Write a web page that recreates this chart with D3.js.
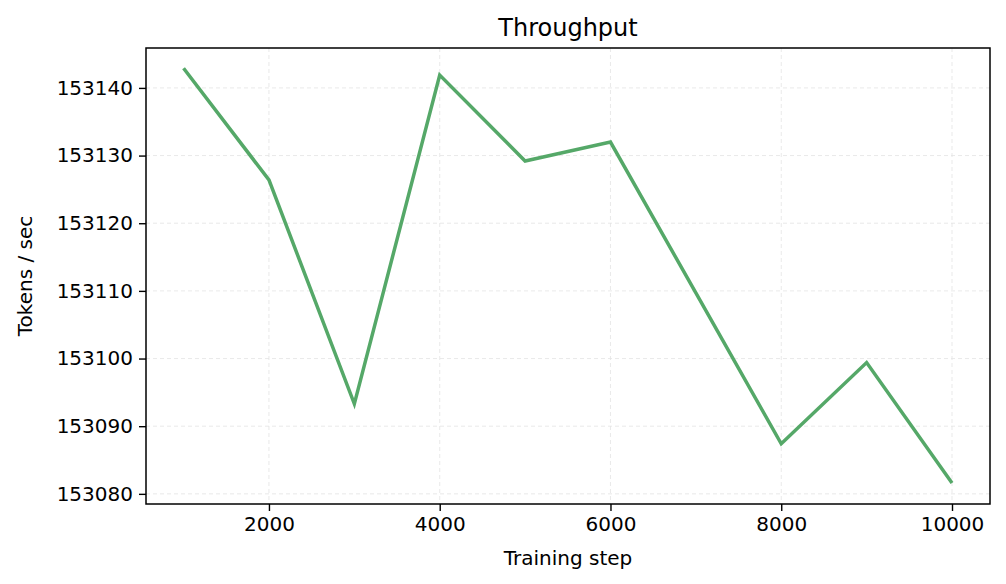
<!DOCTYPE html>
<html>
<head>
<meta charset="utf-8">
<script src="https://cdn.jsdelivr.net/npm/d3@7"></script>
<style>
  body { margin: 0; background: #fff; }
  text { font-family: "DejaVu Sans", sans-serif; fill: #000; }
</style>
</head>
<body>
<div id="chart"></div>
<script>
const steps = [1000, 2000, 3000, 4000, 5000, 6000, 7000, 8000, 9000, 10000];
const tokensPerSec = [153142.9, 153126.4, 153093.3, 153141.9, 153129.2, 153132.0, 153109.7, 153087.4, 153099.4, 153081.6];
const xTicks = [2000, 4000, 6000, 8000, 10000];
const yTicks = [153080, 153090, 153100, 153110, 153120, 153130, 153140];

const width = 1006, height = 584;
const margin = { top: 48, right: 16, bottom: 80, left: 146 };
const w = width - margin.left - margin.right, h = height - margin.top - margin.bottom;

const svg = d3.select("#chart").append("svg")
    .attr("width", width).attr("height", height);
const g = svg.append("g").attr("transform", `translate(${margin.left},${margin.top})`);

const x = d3.scaleLinear().domain([560, 10445]).range([0, w]);
const y = d3.scaleLinear().domain([153078.5, 153145.9]).range([h, 0]);

// grid
g.selectAll(".gx").data(xTicks).enter().append("line")
    .attr("x1", d => x(d)).attr("x2", d => x(d)).attr("y1", 0).attr("y2", h)
    .attr("stroke", "#e3e3e3").attr("stroke-dasharray", "4,3").attr("stroke-width", 0.8);
g.selectAll(".gy").data(yTicks).enter().append("line")
    .attr("y1", d => y(d)).attr("y2", d => y(d)).attr("x1", 0).attr("x2", w)
    .attr("stroke", "#e3e3e3").attr("stroke-dasharray", "4,3").attr("stroke-width", 0.8);

const xAxis = g.append("g").attr("transform", `translate(0,${h})`)
    .call(d3.axisBottom(x).tickValues(xTicks).tickFormat(d3.format("d")).tickSize(7).tickPadding(6));
const yAxis = g.append("g")
    .call(d3.axisLeft(y).tickValues(yTicks).tickFormat(d3.format("d")).tickSize(7).tickPadding(6));
[xAxis, yAxis].forEach(a => {
    a.select(".domain").remove();
    a.selectAll("text").style("font-size", "20px");
    a.selectAll("line").attr("stroke", "#000").attr("stroke-width", 1.4);
});

g.append("rect").attr("width", w).attr("height", h)
    .attr("fill", "none").attr("stroke", "#000").attr("stroke-width", 1.5);

const line = d3.line().x((d, i) => x(steps[i])).y(d => y(d));
g.append("path").datum(tokensPerSec)
    .attr("d", line).attr("fill", "none")
    .attr("stroke", "#55a868").attr("stroke-width", 3.5).attr("stroke-linejoin", "miter");

svg.append("text").attr("x", margin.left + w / 2).attr("y", 36)
    .attr("text-anchor", "middle").style("font-size", "24px").text("Throughput");
svg.append("text").attr("x", margin.left + w / 2).attr("y", 565)
    .attr("text-anchor", "middle").style("font-size", "20px").text("Training step");
svg.append("text").attr("transform", `translate(32,${margin.top + h / 2}) rotate(-90)`)
    .attr("text-anchor", "middle").style("font-size", "20px").text("Tokens / sec");
</script>
</body>
</html>
